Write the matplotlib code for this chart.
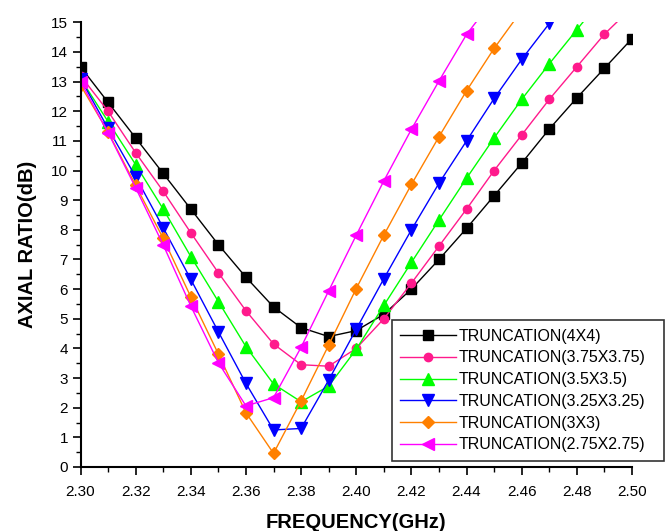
import matplotlib
matplotlib.use("Agg")
import matplotlib.pyplot as plt
from matplotlib.ticker import MultipleLocator, FormatStrFormatter

plt.rcParams['font.family'] = ['Liberation Sans', 'DejaVu Sans']

freq = [2.30, 2.31, 2.32, 2.33, 2.34, 2.35, 2.36, 2.37, 2.38, 2.39, 2.40,
        2.41, 2.42, 2.43, 2.44, 2.45, 2.46, 2.47, 2.48, 2.49, 2.50]

ar_4x4 = [13.5, 12.3, 11.1, 9.9, 8.7, 7.5, 6.4, 5.4, 4.7, 4.4, 4.6,
          5.15, 6.0, 7.0, 8.05, 9.15, 10.25, 11.4, 12.45, 13.45, 14.45]
ar_375 = [13.2, 12.0, 10.6, 9.3, 7.9, 6.55, 5.27, 4.15, 3.45, 3.4, 4.0,
          5.0, 6.2, 7.45, 8.7, 10.0, 11.2, 12.4, 13.5, 14.6, 15.5]
ar_35 = [13.1, 11.65, 10.2, 8.7, 7.1, 5.58, 4.06, 2.8, 2.2, 2.73, 3.97,
         5.45, 6.9, 8.33, 9.74, 11.1, 12.4, 13.6, 14.75, 15.9]
ar_325 = [13.1, 11.42, 9.79, 8.07, 6.33, 4.56, 2.82, 1.25, 1.3, 2.93, 4.65,
          6.35, 8.0, 9.57, 11.0, 12.43, 13.75, 14.96, 16.2]
ar_3 = [12.88, 11.3, 9.5, 7.71, 5.74, 3.81, 1.83, 0.46, 2.23, 4.11, 6.02,
        7.82, 9.53, 11.14, 12.69, 14.12, 15.4]
ar_275 = [13.0, 11.28, 9.42, 7.49, 5.43, 3.52, 2.06, 2.34, 4.04, 5.94, 7.82,
          9.65, 11.39, 13.02, 14.59, 15.8]

labels = ["TRUNCATION(4X4)", "TRUNCATION(3.75X3.75)", "TRUNCATION(3.5X3.5)",
          "TRUNCATION(3.25X3.25)", "TRUNCATION(3X3)", "TRUNCATION(2.75X2.75)"]
series = [ar_4x4, ar_375, ar_35, ar_325, ar_3, ar_275]
colors = ["#000000", "#FF1A8C", "#00FF00", "#0000FF", "#FF8000", "#FF00FF"]
markers = ["s", "o", "^", "v", "D", "<"]
msizes = [6.5, 6, 8, 8, 6.5, 8]

fig = plt.figure(figsize=(6.67, 5.31), dpi=100)
ax = fig.add_axes([80.5 / 667, (531 - 467) / 531, (632 - 80.5) / 667, (467 - 22.3) / 531])

for ys, c, m, ms, lab in zip(series, colors, markers, msizes, labels):
    ax.plot(freq[:len(ys)], ys, color=c, lw=1.0, marker=m, ms=ms,
            mec=c, mfc=c, label=lab)

ax.set_xlim(2.30, 2.50)
ax.set_ylim(0, 15)
ax.xaxis.set_major_locator(MultipleLocator(0.02))
ax.xaxis.set_minor_locator(MultipleLocator(0.01))
ax.xaxis.set_major_formatter(FormatStrFormatter('%.2f'))
ax.yaxis.set_major_locator(MultipleLocator(1))
ax.yaxis.set_minor_locator(MultipleLocator(0.5))

for s in ("top", "right"):
    ax.spines[s].set_visible(False)
for s in ("left", "bottom"):
    ax.spines[s].set_linewidth(1.5)

ax.tick_params(axis='both', which='major', direction='out', length=6, width=1.2,
               labelsize=11, pad=3)
ax.tick_params(axis='x', which='major', pad=7)
ax.tick_params(axis='both', which='minor', direction='out', length=3.5, width=1.0)

ax.set_xlabel("FREQUENCY(GHz)", fontsize=14.5, fontweight='bold', labelpad=10)
ax.set_ylabel("AXIAL RATIO(dB)", fontsize=14.5, fontweight='bold', labelpad=10)

# legend box spans a fixed strip in the lower right of the figure
x0, x1, ytop = 391.7 / 667, 663.5 / 667, 1 - 320 / 531
leg = fig.legend(loc='upper left', bbox_to_anchor=(x0, ytop - 0.3, x1 - x0, 0.3),
                 mode='expand', bbox_transform=fig.transFigure, fontsize=11.5,
                 frameon=True, fancybox=False, edgecolor='black',
                 handlelength=3.5, handletextpad=0.15, labelspacing=0.42,
                 borderpad=0.55, borderaxespad=0)
leg.get_frame().set_linewidth(1.2)

fig.savefig("out.png", dpi=100)
